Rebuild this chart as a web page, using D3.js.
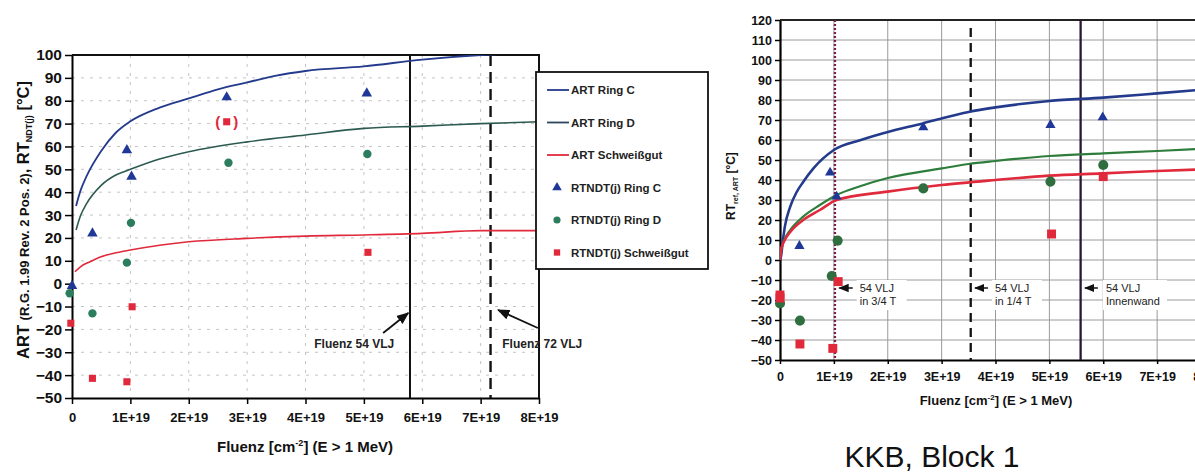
<!DOCTYPE html>
<html>
<head>
<meta charset="utf-8">
<script src="https://cdn.jsdelivr.net/npm/d3@7"></script>
<style>
  body { margin: 0; background: #fff; }
  svg { display: block; font-family: "Liberation Sans", Arial, sans-serif; }
</style>
</head>
<body>
<div id="chart"></div>
<script>
// fluence values are given in units of 1E+19 n/cm² (E > 1 MeV)
const fluenceTicks = [0, 1, 2, 3, 4, 5, 6, 7, 8]
const leftTempTicks = d3.range(-50, 101, 10)
const rightTempTicks = d3.range(-50, 121, 10)

// ---- left chart: ART curves (R.G. 1.99 Rev. 2 Pos. 2)
const leftArtRingC = [[0.07, 34], [0.15, 41], [0.25, 47], [0.5, 58], [0.75, 66], [1, 71], [1.5, 77], [2, 81], [2.5, 85], [3, 88], [3.5, 91], [4, 93], [5, 95], [6, 98], [7, 100], [8, 101]]
const leftArtRingD = [[0.07, 23.5], [0.15, 30], [0.25, 35], [0.5, 43], [0.75, 47.5], [1, 50], [1.5, 54.5], [2, 57.7], [3, 62], [4, 65], [5, 67.9], [6, 68.9], [7, 70], [8, 70.8]]
const leftArtWeld = [[0.05, 5.2], [0.15, 7.5], [0.3, 9.5], [0.5, 11.8], [0.75, 13.5], [1, 14.7], [1.5, 16.8], [2, 18.3], [3, 19.8], [4, 20.8], [5, 21.3], [6, 22], [7, 23.2], [8, 23.2]]
// ---- left chart: RTNDT(j) measurements
const leftRingC = [[0, -1], [0.35, 22], [0.94, 58.4], [1.02, 46.8], [2.65, 81.5], [5.05, 83.2]]
const leftRingD = [[-0.04, -4.2], [0.35, -13], [0.94, 9.2], [1.01, 26.6], [2.68, 52.9], [5.06, 56.7]]
const leftWeld = [[-0.02, -17.3], [0.35, -41.4], [0.94, -42.9], [1.03, -10.1], [2.65, 70.8], [5.07, 13.7]]
const leftWeldBracketed = [4]
// vertical marker lines and their notes
const leftFluence54 = 5.79
const leftFluence72 = 7.17
const leftNotes = [
  {text: "Fluenz 54 VLJ", x: 4.15, y: -28, from: [5.33, -21.6], to: [5.76, -12.8]},
  {text: "Fluenz 72 VLJ", x: 7.37, y: -28, from: [7.98, -19.4], to: [7.3, -11.5]}
]
const legendNames = ["ART Ring C", "ART Ring D", "ART Schweißgut", "RTNDT(j) Ring C", "RTNDT(j) Ring D", "RTNDT(j) Schweißgut"]

// ---- right chart (KKB, Block 1)
const rightArtRingC = [[0, 0], [0.02, 2], [0.05, 9], [0.09, 16.7], [0.19, 26.7], [0.31, 34], [0.43, 39], [0.62, 45.8], [1, 55], [1.5, 60], [2, 64], [2.65, 68.3], [3, 70.8], [3.5, 74], [4, 76.3], [5, 79.5], [6, 81.2], [7, 83.3], [8, 85.5]]
const rightArtRingD = [[0, 0], [0.02, 5], [0.08, 10], [0.19, 15], [0.43, 21.7], [0.74, 27.5], [1.05, 32.5], [1.5, 37], [2, 41], [3, 45.8], [3.5, 48], [4, 49.5], [5, 52], [6, 53.3], [7, 54.5], [8, 55.8]]
const rightArtWeld = [[0, 0], [0.02, 5], [0.08, 9.5], [0.19, 14], [0.43, 20], [0.74, 25], [1.05, 30], [2, 34.2], [3, 37.5], [4, 40], [5, 42.2], [6, 43.3], [7, 44.5], [8, 45.5]]
const rightRingC = [[0.36, 7], [0.93, 43.7], [1.05, 31.7], [2.66, 66.3], [5.02, 67.5], [5.99, 71.3]]
const rightRingD = [[0, -21.7], [0.37, -30.3], [0.96, -8], [1.07, 9.7], [2.66, 35.8], [5.02, 39.2], [6, 47.5]]
const rightWeld = [[0, -17.5], [0, -19], [0.37, -42], [0.98, -44.2], [1.08, -10.8], [5.04, 13], [6, 41.7]]
const rightLines = [
  {x: 1.02, dash: "2,2", color: "#7a1f4a"},
  {x: 3.54, dash: "9,6", color: "#111"},
  {x: 5.58, dash: null, color: "#2a1636"}
]
const rightNotes = [
  {lines: ["54 VLJ", "in 3/4 T"], x: 1.48, y: -16, from: 1.35, to: 1.1},
  {lines: ["54 VLJ", "in 1/4 T"], x: 3.99, y: -16, from: 3.86, to: 3.62},
  {lines: ["54 VLJ", "Innenwand"], x: 6.05, y: -16, from: 5.9, to: 5.66}
]

const width = 1195
const height = 472
const blue = "#243a8c"
const red = "#e02a3c"
const fmtFluence = d => d === 0 ? "0" : d + "E+19"

const svg = d3.select("#chart").append("svg")
  .attr("width", width)
  .attr("height", height)
svg.append("rect").attr("width", width).attr("height", height).attr("fill", "#fff")

const defs = svg.append("defs")
defs.append("marker")
  .attr("id", "arrow")
  .attr("viewBox", "0 0 10 10")
  .attr("refX", 9).attr("refY", 5)
  .attr("markerWidth", 7).attr("markerHeight", 7)
  .attr("orient", "auto-start-reverse")
  .append("path").attr("d", "M0,1L10,5L0,9Z").attr("fill", "#111")

const line = (x, y) => d3.line().x(d => x(d[0])).y(d => y(d[1])).curve(d3.curveMonotoneX)
const sym = (type, size) => d3.symbol().type(type).size(size)

// ================= left chart =================
const xL = d3.scaleLinear([0, 8], [72, 539])
const yL = d3.scaleLinear([-50, 100], [398, 55])

defs.append("clipPath").attr("id", "clipL")
  .append("rect").attr("x", 72).attr("y", 55).attr("width", 467).attr("height", 343)

const gL = svg.append("g")
// faint dotted grid
gL.append("g").selectAll("line").data(leftTempTicks.slice(1, -1)).join("line")
  .attr("x1", 72).attr("x2", 539)
  .attr("y1", d => yL(d)).attr("y2", d => yL(d))
  .attr("stroke", "#c4c4c4").attr("stroke-dasharray", "3,6")
gL.append("g").selectAll("line").data(fluenceTicks.slice(1, -1)).join("line")
  .attr("y1", 55).attr("y2", 398)
  .attr("x1", d => xL(d)).attr("x2", d => xL(d))
  .attr("stroke", "#c4c4c4").attr("stroke-dasharray", "3,6")

// axes
gL.append("g")
  .attr("transform", "translate(0,398)")
  .call(d3.axisBottom(xL).tickValues(fluenceTicks).tickFormat(fmtFluence).tickSize(6).tickSizeOuter(0).tickPadding(9))
  .call(g => g.select(".domain").attr("stroke-width", 2))
  .call(g => g.selectAll("line").attr("stroke-width", 1.5))
  .call(g => g.selectAll("text").attr("font-size", 13).attr("font-weight", "bold").attr("fill", "#111"))
gL.append("g")
  .attr("transform", "translate(72,0)")
  .call(d3.axisLeft(yL).tickValues(leftTempTicks).tickSize(7).tickSizeOuter(0).tickPadding(3))
  .call(g => g.select(".domain").attr("stroke-width", 2))
  .call(g => g.selectAll("line").attr("stroke-width", 1.5))
  .call(g => g.selectAll("text").attr("font-size", 15.5).attr("font-weight", "bold").attr("fill", "#111"))
// frame
gL.append("path")
  .attr("d", `M${xL(0)},${yL(100)}H${xL(8)}V${yL(-50)}`)
  .attr("fill", "none").attr("stroke", "#111").attr("stroke-width", 2)

// vertical fluence lines
gL.append("line")
  .attr("x1", xL(leftFluence54)).attr("x2", xL(leftFluence54))
  .attr("y1", yL(100)).attr("y2", yL(-50))
  .attr("stroke", "#111").attr("stroke-width", 2)
gL.append("line")
  .attr("x1", xL(leftFluence72)).attr("x2", xL(leftFluence72))
  .attr("y1", yL(100)).attr("y2", yL(-50))
  .attr("stroke", "#111").attr("stroke-width", 2.4).attr("stroke-dasharray", "11,6")

// curves
const curvesL = gL.append("g").attr("clip-path", "url(#clipL)")
curvesL.append("path").datum(leftArtRingC).attr("d", line(xL, yL))
  .attr("fill", "none").attr("stroke", blue).attr("stroke-width", 1.8)
curvesL.append("path").datum(leftArtRingD).attr("d", line(xL, yL))
  .attr("fill", "none").attr("stroke", "#2c5a50").attr("stroke-width", 1.6)
curvesL.append("path").datum(leftArtWeld).attr("d", line(xL, yL))
  .attr("fill", "none").attr("stroke", red).attr("stroke-width", 1.6)

// markers
gL.append("g").selectAll("path").data(leftRingC).join("path")
  .attr("transform", d => `translate(${xL(d[0])},${yL(d[1])})`)
  .attr("d", sym(d3.symbolTriangle, 48)).attr("fill", "#1f3796")
gL.append("g").selectAll("path").data(leftRingD).join("path")
  .attr("transform", d => `translate(${xL(d[0])},${yL(d[1])})`)
  .attr("d", sym(d3.symbolCircle, 55)).attr("fill", "#2b7d5e")
gL.append("g").selectAll("path").data(leftWeld).join("path")
  .attr("transform", d => `translate(${xL(d[0])},${yL(d[1])})`)
  .attr("d", sym(d3.symbolSquare, 50)).attr("fill", red)
// the bracketed (uncertain) value
const bracketed = gL.append("g").selectAll("g").data(leftWeldBracketed.map(i => leftWeld[i])).join("g")
  .attr("transform", d => `translate(${xL(d[0])},${yL(d[1]) + 5})`)
  .attr("font-size", 15).attr("font-weight", "bold").attr("fill", red).attr("text-anchor", "middle")
bracketed.append("text").attr("x", -9).text("(")
bracketed.append("text").attr("x", 9).text(")")

// notes
leftNotes.forEach(n => {
  gL.append("text").attr("x", xL(n.x)).attr("y", yL(n.y))
    .attr("font-size", 12).attr("font-weight", "bold").attr("fill", "#222").text(n.text)
  gL.append("line")
    .attr("x1", xL(n.from[0])).attr("y1", yL(n.from[1]))
    .attr("x2", xL(n.to[0])).attr("y2", yL(n.to[1]))
    .attr("stroke", "#111").attr("stroke-width", 1.8).attr("marker-end", "url(#arrow)")
})

// axis titles
const yTitleL = gL.append("text")
  .attr("transform", "translate(29,220) rotate(-90)")
  .attr("text-anchor", "middle").attr("font-weight", "bold").attr("fill", "#111")
yTitleL.append("tspan").attr("font-size", 16.5).text("ART ")
yTitleL.append("tspan").attr("font-size", 13).text("(R.G. 1.99 Rev. 2 Pos. 2)")
yTitleL.append("tspan").attr("font-size", 16.5).text(", RT")
yTitleL.append("tspan").attr("font-size", 9).attr("dy", 3).text("NDT(j)")
yTitleL.append("tspan").attr("font-size", 16.5).attr("dy", -3).text(" [°C]")

const xTitleL = gL.append("text")
  .attr("x", 305).attr("y", 452)
  .attr("text-anchor", "middle").attr("font-weight", "bold").attr("font-size", 15).attr("fill", "#111")
xTitleL.append("tspan").text("Fluenz [cm")
xTitleL.append("tspan").attr("font-size", 9).attr("dy", -6).text("-2")
xTitleL.append("tspan").attr("dy", 6).text("] (E > 1 MeV)")

// legend
const lg = gL.append("g").attr("transform", "translate(536,72)")
lg.append("rect").attr("width", 172).attr("height", 197)
  .attr("fill", "#fff").attr("stroke", "#111").attr("stroke-width", 1.8)
const legendColors = [blue, "#2a4760", red, "#1f3796", "#2b7d5e", red]
const legendSymbols = [null, null, null, d3.symbolTriangle, d3.symbolCircle, d3.symbolSquare]
legendNames.forEach((name, i) => {
  const row = lg.append("g").attr("transform", `translate(0,${18 + i * 32.5})`)
  if (legendSymbols[i]) {
    row.append("path").attr("transform", "translate(21,0)")
      .attr("d", sym(legendSymbols[i], 40)).attr("fill", legendColors[i])
  } else {
    row.append("line").attr("x1", 11).attr("x2", 33)
      .attr("stroke", legendColors[i]).attr("stroke-width", 1.8)
  }
  row.append("text").attr("x", 35).attr("y", 4)
    .attr("font-size", 11.5).attr("font-weight", "bold").attr("fill", "#222").text(name)
})

// ================= right chart =================
const xR = d3.scaleLinear([0, 8], [780, 1211])
const yR = d3.scaleLinear([-50, 120], [360, 20])

defs.append("clipPath").attr("id", "clipR")
  .append("rect").attr("x", 780).attr("y", 20).attr("width", 431).attr("height", 340)

const gR = svg.append("g")
gR.append("g").selectAll("line").data(rightTempTicks.slice(1, -1)).join("line")
  .attr("x1", 780).attr("x2", 1211)
  .attr("y1", d => yR(d)).attr("y2", d => yR(d))
  .attr("stroke", "#9a9a9a").attr("stroke-width", 1)
gR.append("g").selectAll("line").data(fluenceTicks.slice(1)).join("line")
  .attr("y1", 20).attr("y2", 360)
  .attr("x1", d => xR(d)).attr("x2", d => xR(d))
  .attr("stroke", "#9a9a9a").attr("stroke-width", 1)

gR.append("g")
  .attr("transform", "translate(0,360)")
  .call(d3.axisBottom(xR).tickValues(fluenceTicks).tickFormat(fmtFluence).tickSize(4).tickSizeOuter(0).tickPadding(8))
  .call(g => g.select(".domain").attr("stroke-width", 2.2))
  .call(g => g.selectAll("line").attr("stroke-width", 1.5))
  .call(g => g.selectAll("text").attr("font-size", 12.5).attr("font-weight", "bold").attr("fill", "#111"))
gR.append("g")
  .attr("transform", "translate(780,0)")
  .call(d3.axisLeft(yR).tickValues(rightTempTicks).tickSize(5).tickSizeOuter(0).tickPadding(3))
  .call(g => g.select(".domain").attr("stroke-width", 2.2))
  .call(g => g.selectAll("line").attr("stroke-width", 1.5))
  .call(g => g.selectAll("text").attr("font-size", 12.5).attr("font-weight", "bold").attr("fill", "#111"))
gR.append("line").attr("x1", 780).attr("x2", 1211).attr("y1", yR(120)).attr("y2", yR(120))
  .attr("stroke", "#222").attr("stroke-width", 2)

// note boxes (white, hide the grid under the text)
rightNotes.forEach(n => {
  gR.append("rect")
    .attr("x", xR(n.x) - 3).attr("y", yR(n.y) - 12)
    .attr("width", n.lines[1].length > 8 ? 64 : 50).attr("height", 30)
    .attr("fill", "#fff")
})

rightLines.forEach(l => {
  gR.append("line")
    .attr("x1", xR(l.x)).attr("x2", xR(l.x))
    .attr("y1", l.dash === "9,6" ? yR(116) : yR(120)).attr("y2", yR(-50))
    .attr("stroke", l.color).attr("stroke-width", 2.3)
    .attr("stroke-dasharray", l.dash)
})

const curvesR = gR.append("g").attr("clip-path", "url(#clipR)")
curvesR.append("path").datum(rightArtRingC).attr("d", line(xR, yR))
  .attr("fill", "none").attr("stroke", blue).attr("stroke-width", 2.6)
curvesR.append("path").datum(rightArtRingD).attr("d", line(xR, yR))
  .attr("fill", "none").attr("stroke", "#2f7d3c").attr("stroke-width", 2.2)
curvesR.append("path").datum(rightArtWeld).attr("d", line(xR, yR))
  .attr("fill", "none").attr("stroke", red).attr("stroke-width", 2.6)

gR.append("g").selectAll("path").data(rightRingC).join("path")
  .attr("transform", d => `translate(${xR(d[0])},${yR(d[1])})`)
  .attr("d", sym(d3.symbolTriangle, 45)).attr("fill", "#1f3796")
gR.append("g").selectAll("path").data(rightRingD).join("path")
  .attr("transform", d => `translate(${xR(d[0])},${yR(d[1])})`)
  .attr("d", sym(d3.symbolCircle, 80)).attr("fill", "#2f6e3e")
gR.append("g").selectAll("path").data(rightWeld).join("path")
  .attr("transform", d => `translate(${xR(d[0])},${yR(d[1])})`)
  .attr("d", sym(d3.symbolSquare, 80)).attr("fill", red)

rightNotes.forEach(n => {
  gR.append("line")
    .attr("x1", xR(n.from)).attr("x2", xR(n.to))
    .attr("y1", yR(n.y) - 4).attr("y2", yR(n.y) - 4)
    .attr("stroke", "#111").attr("stroke-width", 1.5).attr("marker-end", "url(#arrow)")
  gR.append("text")
    .attr("x", xR(n.x)).attr("y", yR(n.y))
    .attr("font-size", 11).attr("fill", "#222")
    .selectAll("tspan").data(n.lines).join("tspan")
    .attr("x", xR(n.x)).attr("dy", (d, i) => i === 0 ? 0 : 13).text(d => d)
})

const yTitleR = gR.append("text")
  .attr("transform", "translate(735,186) rotate(-90)")
  .attr("text-anchor", "middle").attr("font-weight", "bold").attr("fill", "#111")
yTitleR.append("tspan").attr("font-size", 12).text("RT")
yTitleR.append("tspan").attr("font-size", 7).attr("dy", 3).text("ref, ART")
yTitleR.append("tspan").attr("font-size", 12).attr("dy", -3).text(" [°C]")

const xTitleR = gR.append("text")
  .attr("x", 996).attr("y", 405)
  .attr("text-anchor", "middle").attr("font-weight", "bold").attr("font-size", 13).attr("fill", "#111")
xTitleR.append("tspan").text("Fluenz [cm")
xTitleR.append("tspan").attr("font-size", 8).attr("dy", -5).text("-2")
xTitleR.append("tspan").attr("dy", 5).text("] (E > 1 MeV)")

svg.append("text")
  .attr("x", 932).attr("y", 467)
  .attr("text-anchor", "middle").attr("font-size", 30).attr("fill", "#111")
  .text("KKB, Block 1")
</script>
</body>
</html>
